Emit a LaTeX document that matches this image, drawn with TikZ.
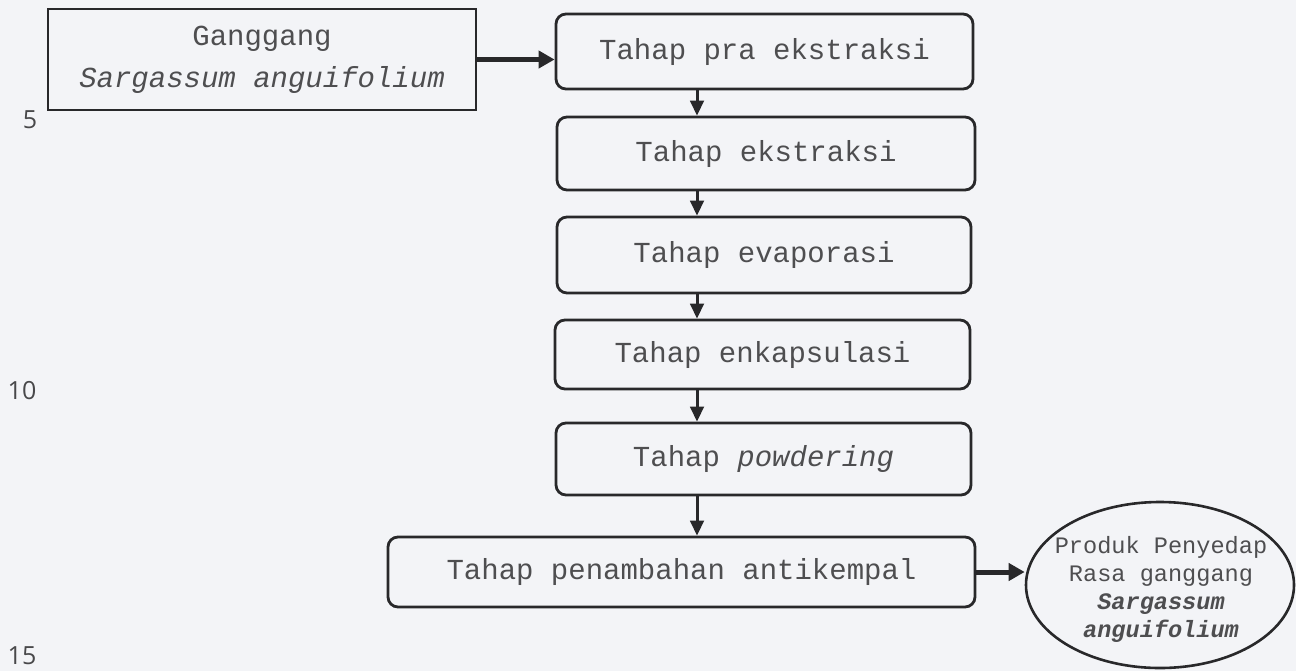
\documentclass[tikz,border=0pt]{standalone}
\usepackage{fontspec}
\newfontfamily\cour{Liberation Mono}
\newfontfamily\numfont{Open Sans}
\usetikzlibrary{arrows.meta,shapes.geometric}
\definecolor{bg}{RGB}{243,244,247}
\definecolor{ink}{RGB}{40,40,42}
\definecolor{txt}{RGB}{78,78,80}
\begin{document}
\begin{tikzpicture}[x=0.5pt,y=-0.5pt,
  stepbox/.style={draw=ink,line width=1.4pt,rounded corners=5pt,inner sep=0pt,
    font=\cour\fontsize{14.5}{17}\selectfont,text=txt},
  srcbox/.style={draw=ink,line width=1pt,inner sep=0pt,align=center,
    font=\cour\fontsize{14.5}{21}\selectfont,text=txt},
  vline/.style={draw=ink,line width=1.5pt,-{Triangle[length=7.5pt,width=6.8pt]}},
  hline/.style={draw=ink,line width=2.5pt,-{Triangle[length=8pt,width=8.5pt]}},
  numlab/.style={font=\numfont\fontsize{12.5}{14}\selectfont,text=ink!85,inner sep=0pt},
  prodtext/.style={font=\cour\fontsize{11.8}{14}\selectfont,text=txt,align=center,inner sep=0pt}]
\fill[bg] (0,0) rectangle (1296,671);
\useasboundingbox (0,0) rectangle (1296,671);

\node[srcbox,minimum width=214pt,minimum height=50.5pt] (g) at (262,59.5)
  {Ganggang\\\textit{Sargassum anguifolium}};
\node[stepbox,minimum width=208.5pt,minimum height=37.5pt] (b1) at (764.5,51.5) {Tahap pra ekstraksi};
\node[stepbox,minimum width=209pt,minimum height=36.5pt] (b2) at (766,153.5) {Tahap ekstraksi};
\node[stepbox,minimum width=207pt,minimum height=38pt] (b3) at (764,255) {Tahap evaporasi};
\node[stepbox,minimum width=207.5pt,minimum height=34.5pt] (b4) at (762.5,354.5) {Tahap enkapsulasi};
\node[stepbox,minimum width=207.5pt,minimum height=36pt] (b5) at (763.5,459) {Tahap \textit{powdering}};
\node[stepbox,minimum width=293.5pt,minimum height=35pt] (b6) at (681.5,572) {Tahap penambahan antikempal};

\node[ellipse,draw=ink,line width=1.3pt,minimum width=134pt,minimum height=83pt,inner sep=0pt] (e) at (1160,585) {};
\node[prodtext] (et) at (1161,589)
  {Produk Penyedap\\Rasa ganggang\\\textbf{\textit{Sargassum}}\\\textbf{\textit{anguifolium}}};

\node[numlab] (n5) at (30,120) {5};
\node[numlab] (n10) at (22,391) {10};
\node[numlab] (n15) at (22,656) {15};

\coordinate (ax) at (697,0);
\draw[hline] (g.east) -- (g.east -| b1.west);
\draw[vline] (ax |- b1.south) -- (ax |- b2.north);
\draw[vline] (ax |- b2.south) -- (ax |- b3.north);
\draw[vline] (ax |- b3.south) -- (ax |- b4.north);
\draw[vline] (ax |- b4.south) -- (ax |- b5.north);
\draw[vline] (ax |- b5.south) -- (ax |- b6.north);
\draw[hline] (b6.east) -- (b6.east -| e.west);
\end{tikzpicture}
\end{document}
